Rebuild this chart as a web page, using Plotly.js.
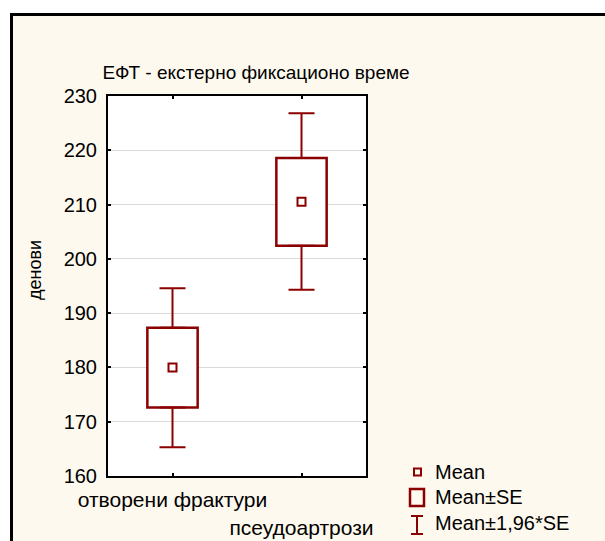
<!DOCTYPE html>
<html>
<head>
<meta charset="utf-8">
<script src="https://cdn.plot.ly/plotly-3.0.1.min.js"></script>
<style>
  html, body { margin: 0; padding: 0; background: #ffffff; width: 605px; height: 541px; overflow: hidden; }
  #frame { position: absolute; left: 10px; top: 13px; width: 620px; height: 560px;
           border-left: 3px solid #000; border-top: 3px solid #000; background: #FEF9EE; }
  #chart { position: absolute; left: 0; top: 0; width: 605px; height: 541px; }
</style>
</head>
<body>
<div id="frame"></div>
<div id="chart"></div>
<script>
// ---- data ----
const categories = ["отворени фрактури", "псеудоартрози"];
const means   = [180.0, 210.5];
const seLow   = [172.6, 202.4];
const seHigh  = [187.3, 218.6];
const ciLow   = [165.3, 194.3];
const ciHigh  = [194.6, 226.8];
const yTicks  = [160, 170, 180, 190, 200, 210, 220, 230];
const legendLabels = ["Mean", "Mean±SE", "Mean±1,96*SE"];
const titleText = "ЕФТ - екстерно фиксационо време";
const yTitle = "денови";

const RED = "#8B0000";
const FONT = "Liberation Sans, Arial, sans-serif";
const xIdx = categories.map((c, i) => i);

// plot area in pixels
const L = 108, R = 366, T = 96, B = 476, W = 605, H = 541;
const xp = px => (px - L) / (R - L);
const yp = py => (B - py) / (B - T);

const traces = [
  { // Mean ± SE box
    type: "bar", x: xIdx, base: seLow, y: seHigh.map((v, i) => v - seLow[i]),
    width: 0.39, marker: { color: "#ffffff", line: { color: RED, width: 2.5 } },
    hoverinfo: "skip"
  },
  { // upper whisker
    type: "scatter", mode: "markers", x: xIdx, y: seHigh,
    marker: { size: 1, color: "rgba(0,0,0,0)" },
    error_y: { type: "data", symmetric: false, array: ciHigh.map((v, i) => v - seHigh[i]),
               arrayminus: seHigh.map(() => 0), color: RED, thickness: 2, width: 13 }
  },
  { // lower whisker
    type: "scatter", mode: "markers", x: xIdx, y: seLow,
    marker: { size: 1, color: "rgba(0,0,0,0)" },
    error_y: { type: "data", symmetric: false, array: seLow.map(() => 0),
               arrayminus: seLow.map((v, i) => v - ciLow[i]), color: RED, thickness: 2, width: 13 }
  },
  { // Mean
    type: "scatter", mode: "markers", x: xIdx, y: means,
    marker: { symbol: "square-open", size: 8, color: RED, line: { width: 2, color: RED } }
  }
];

const shapes = [
  // legend: Mean
  { type: "rect", xref: "paper", yref: "paper", x0: xp(414), x1: xp(421), y0: yp(475.5), y1: yp(468.5),
    line: { color: RED, width: 2 }, fillcolor: "rgba(0,0,0,0)" },
  // legend: Mean±SE
  { type: "rect", xref: "paper", yref: "paper", x0: xp(410), x1: xp(424), y0: yp(506), y1: yp(489),
    line: { color: RED, width: 2.5 }, fillcolor: "rgba(0,0,0,0)" },
  // legend: whisker
  { type: "line", xref: "paper", yref: "paper", x0: xp(417), x1: xp(417), y0: yp(516), y1: yp(534),
    line: { color: RED, width: 2 } },
  { type: "line", xref: "paper", yref: "paper", x0: xp(411), x1: xp(423), y0: yp(516), y1: yp(516),
    line: { color: RED, width: 2 } },
  { type: "line", xref: "paper", yref: "paper", x0: xp(411), x1: xp(423), y0: yp(534), y1: yp(534),
    line: { color: RED, width: 2 } }
];

const legendY = [472, 497, 523];
const annotations = legendLabels.map((t, i) => ({
  text: t, xref: "paper", yref: "paper", x: xp(433), y: yp(legendY[i]),
  xanchor: "left", yanchor: "middle", showarrow: false,
  font: { family: FONT, size: 20, color: "#000" }
}));
annotations.push({
  text: yTitle, xref: "paper", yref: "paper", x: xp(35), y: yp(270),
  xanchor: "center", yanchor: "middle", textangle: -90, showarrow: false,
  font: { family: FONT, size: 18, color: "#000" }
});

const layout = {
  width: W, height: H,
  margin: { l: L, r: W - R, t: T, b: H - B, pad: 0 },
  paper_bgcolor: "rgba(0,0,0,0)",
  plot_bgcolor: "#ffffff",
  showlegend: false,
  title: { text: titleText, xref: "container", yref: "container",
           x: 256 / W, y: 1 - 72 / H, xanchor: "center", yanchor: "middle",
           font: { family: FONT, size: 19, color: "#000" } },
  xaxis: {
    range: [-0.5, 1.5], tickvals: xIdx, tickangle: 0, ticklabelstandoff: 4,
    ticktext: categories.map((c, i) => (i % 2 ? "<br>" + c : c)),
    ticks: "inside", ticklen: 3, tickwidth: 2, tickcolor: "#000",
    showline: true, linecolor: "#000", linewidth: 2, mirror: "ticks",
    showgrid: false, zeroline: false,
    tickfont: { family: FONT, size: 21, color: "#000" }
  },
  yaxis: {
    range: [160, 230], tickvals: yTicks, ticklabelstandoff: 5,
    ticks: "inside", ticklen: 3, tickwidth: 2, tickcolor: "#000",
    showline: true, linecolor: "#000", linewidth: 2, mirror: "ticks",
    showgrid: true, gridcolor: "#DADADA", gridwidth: 1, zeroline: false,
    tickfont: { family: FONT, size: 20, color: "#000" }
  },
  shapes: shapes,
  annotations: annotations
};

Plotly.newPlot("chart", traces, layout, { staticPlot: true, displayModeBar: false });
</script>
</body>
</html>
